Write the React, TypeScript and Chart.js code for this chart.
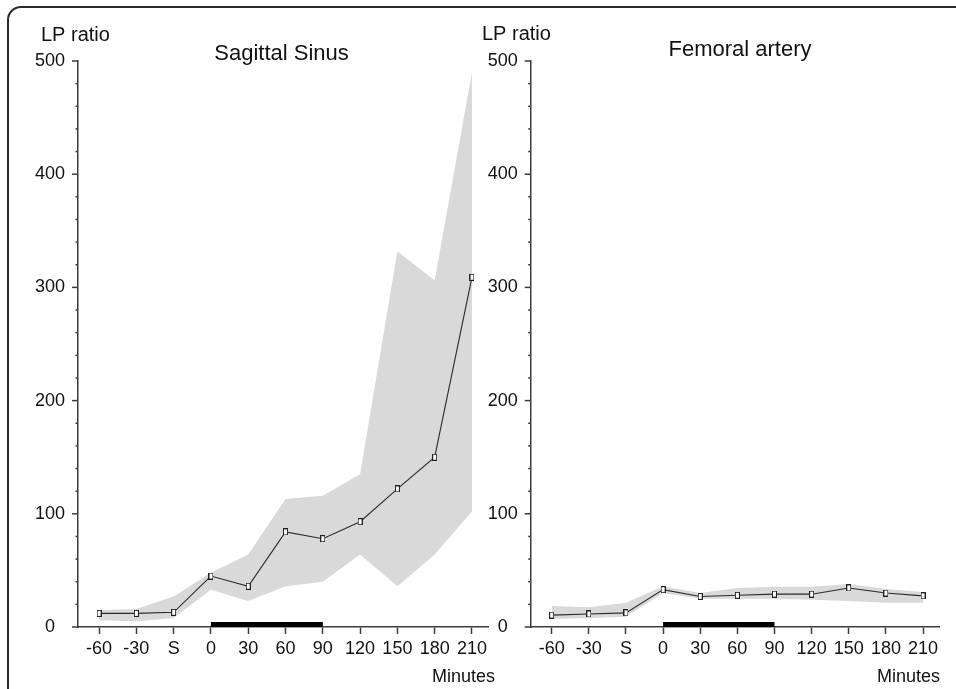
import React, { useEffect, useRef } from 'react';
import { Chart, registerables } from 'chart.js';

Chart.register(...registerables);

// ---------- data ----------
const categories = ['-60', '-30', 'S', '0', '30', '60', '90', '120', '150', '180', '210'];

const sagittalMean = [12, 12, 13, 45, 36, 84, 78, 93, 122, 150, 309];
const sagittalUpper = [15, 16, 27, 48, 64, 113, 116, 135, 332, 306, 490];
const sagittalLower = [6, 5, 8, 33, 23, 36, 40, 64, 36, 64, 102];

const femoralMean = [10.5, 11.5, 12.5, 33, 27, 28, 29, 29, 34.5, 30, 27.5];
const femoralUpper = [18.5, 17.5, 21.5, 36, 30, 34.5, 35.5, 35.5, 38, 33.5, 31];
const femoralLower = [7, 8, 9, 30, 25, 25, 25, 24, 23, 21.5, 21.5];

const yMajorTicks = [0, 100, 200, 300, 400, 500];
const yMinorStep = 20;
const periodStart = '0';
const periodEnd = '90';
const periodLevel = 2.2;

const yAxisLabel = 'LP ratio';
const xAxisLabel = 'Minutes';

// ---------- styles ----------
const FONT = "'Liberation Sans', Arial, Helvetica, sans-serif";
const AXIS = '#3c3c3c';
const BAND = '#d9d9d9';
const TEXT = '#111111';

function makeMarker(): HTMLCanvasElement {
  const c = document.createElement('canvas');
  c.width = 5;
  c.height = 7;
  const ctx = c.getContext('2d')!;
  ctx.fillStyle = '#ffffff';
  ctx.fillRect(0, 0, 5, 7);
  ctx.strokeStyle = '#222222';
  ctx.lineWidth = 1;
  ctx.strokeRect(0.5, 0.5, 4, 6);
  return c;
}

const toPoints = (arr: number[]) => arr.map((v, i) => ({ x: i, y: v }));

interface PanelProps {
  title: string;
  mean: number[];
  upper: number[];
  lower: number[];
  left: number;
  width: number;
  axisWidth: number;
  padRight: number;
  lpX: number;
  lpY: number;
  titleX: number;
  titleY: number;
  minutesX: number;
}

function Panel(p: PanelProps) {
  const ref = useRef<HTMLCanvasElement | null>(null);

  useEffect(() => {
    if (!ref.current) return;
    const marker = makeMarker();
    const i0 = categories.indexOf(periodStart);
    const i1 = categories.indexOf(periodEnd);

    const decor = {
      id: 'decor',
      afterDraw(chart: any) {
        const ctx = chart.ctx as CanvasRenderingContext2D;
        const ys = chart.scales.y;
        const ax = chart.chartArea.left;
        ctx.save();
        ctx.strokeStyle = AXIS;
        ctx.lineWidth = 1.5;
        const maxV = yMajorTicks[yMajorTicks.length - 1];
        for (let v = 0; v <= maxV; v += yMinorStep) {
          const py = ys.getPixelForValue(v);
          const major = yMajorTicks.includes(v);
          const len = major ? 6 : 2.5;
          ctx.beginPath();
          ctx.moveTo(ax - len, py);
          ctx.lineTo(ax, py);
          ctx.stroke();
        }
        ctx.fillStyle = TEXT;
        ctx.textBaseline = 'alphabetic';
        ctx.font = `20px ${FONT}`;
        ctx.textAlign = 'left';
        ctx.fillText(yAxisLabel, p.lpX, p.lpY);
        ctx.font = `22px ${FONT}`;
        ctx.textAlign = 'center';
        ctx.fillText(p.title, p.titleX, p.titleY);
        ctx.font = `18px ${FONT}`;
        ctx.textAlign = 'right';
        ctx.fillText(xAxisLabel, p.minutesX, 682);
        ctx.restore();
      },
    };

    const chart = new Chart(ref.current, {
      type: 'line',
      data: {
        datasets: [
          {
            label: 'mean',
            data: toPoints(p.mean),
            borderColor: '#2a2a2a',
            borderWidth: 1.1,
            pointStyle: marker as any,
            pointRadius: 3,
            fill: false,
            tension: 0,
          },
          {
            label: 'period',
            data: [
              { x: i0, y: periodLevel },
              { x: i1, y: periodLevel },
            ],
            borderColor: '#000000',
            borderWidth: 5,
            borderCapStyle: 'butt',
            pointRadius: 0,
            fill: false,
          },
          {
            label: 'upper',
            data: toPoints(p.upper),
            borderWidth: 0,
            borderColor: 'rgba(0,0,0,0)',
            backgroundColor: BAND,
            pointRadius: 0,
            fill: '+1',
            tension: 0,
          },
          {
            label: 'lower',
            data: toPoints(p.lower),
            borderWidth: 0,
            borderColor: 'rgba(0,0,0,0)',
            pointRadius: 0,
            fill: false,
            tension: 0,
          },
        ],
      },
      options: {
        responsive: false,
        animation: false,
        events: [],
        layout: { padding: { left: 0, top: 61, right: p.padRight, bottom: 2 } },
        plugins: {
          legend: { display: false },
          tooltip: { enabled: false },
          title: { display: false },
        },
        scales: {
          x: {
            type: 'linear',
            min: -0.565,
            max: 10.43,
            afterFit: (s: any) => {
              s.height = 60;
            },
            afterBuildTicks: (s: any) => {
              s.ticks = categories.map((_, i) => ({ value: i }));
            },
            border: { display: true, color: AXIS, width: 1.5 },
            grid: {
              display: true,
              drawOnChartArea: false,
              drawTicks: true,
              tickLength: 7,
              tickColor: AXIS,
              tickWidth: 1.5,
            },
            ticks: {
              autoSkip: false,
              maxRotation: 0,
              padding: 4,
              color: TEXT,
              font: { family: FONT, size: 18 },
              callback: (v: any) => categories[Number(v)] ?? '',
            },
          },
          y: {
            type: 'linear',
            min: 0,
            max: 500,
            afterFit: (s: any) => {
              s.width = p.axisWidth;
            },
            afterBuildTicks: (s: any) => {
              s.ticks = yMajorTicks.map((v) => ({ value: v }));
            },
            border: { display: true, color: AXIS, width: 1.5 },
            grid: { display: true, drawOnChartArea: false, drawTicks: false },
            ticks: {
              padding: 13,
              color: TEXT,
              font: { family: FONT, size: 18 },
              callback: (v: any) => (Number(v) === 0 ? '0  ' : String(v)),
            },
          },
        },
      },
      plugins: [decor],
    });
    return () => chart.destroy();
  }, []);

  return (
    <canvas
      ref={ref}
      width={p.width}
      height={689}
      style={{ position: 'absolute', left: p.left, top: 0, width: p.width, height: 689 }}
    />
  );
}

export default function App() {
  return (
    <div
      style={{
        position: 'fixed',
        left: 0,
        top: 0,
        width: 956,
        height: 689,
        overflow: 'hidden',
        background: '#ffffff',
      }}
    >
      <div
        style={{
          position: 'absolute',
          left: 7,
          top: 6,
          width: 1100,
          height: 900,
          border: '2px solid #2a2a2a',
          borderRadius: 14,
          boxSizing: 'border-box',
        }}
      />
      <Panel
        title="Sagittal Sinus"
        mean={sagittalMean}
        upper={sagittalUpper}
        lower={sagittalLower}
        left={0}
        width={500}
        axisWidth={78}
        padRight={12}
        lpX={41}
        lpY={40.5}
        titleX={281.5}
        titleY={60}
        minutesX={495}
      />
      <Panel
        title="Femoral artery"
        mean={femoralMean}
        upper={femoralUpper}
        lower={femoralLower}
        left={478}
        width={478}
        axisWidth={52.7}
        padRight={17}
        lpX={4}
        lpY={40}
        titleX={262}
        titleY={56}
        minutesX={462}
      />
    </div>
  );
}
